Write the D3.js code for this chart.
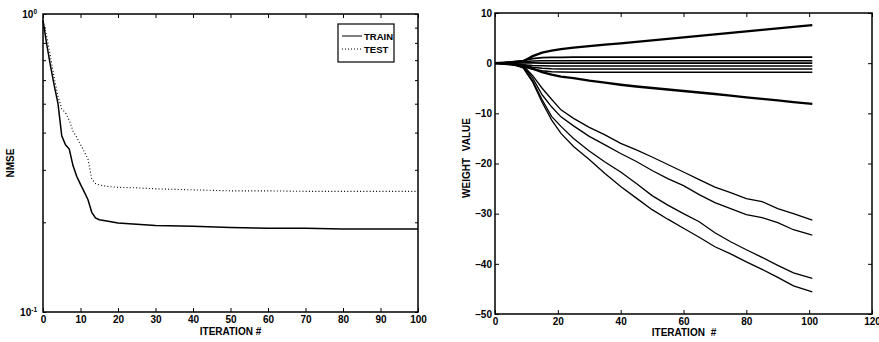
<!DOCTYPE html>
<html>
<head>
<meta charset="utf-8">
<script src="https://cdn.jsdelivr.net/npm/d3@7"></script>
<style>
	body { margin: 0; background: #fff; }
	svg { display: block; }
	text { font-family: "Liberation Sans", Arial, sans-serif; font-weight: bold; fill: #000; }
	.axis path { display: none; }
	.axis line { stroke: #000; stroke-width: 1; }
	.axis text { font-size: 10px; }
	.frame { fill: none; stroke: #000; stroke-width: 1.5; }
</style>
</head>
<body>
<svg class="chart" width="879" height="342"></svg>
<script>
// left panel - NMSE vs iteration (log scale)
var nmseIter = [0, 1, 2, 3, 4, 5, 6, 7, 8, 9, 10, 11, 12, 13, 14, 15, 17, 20, 25, 30, 40, 50, 60, 70, 80, 90, 100];
var trainNmse = [0.95, 0.79, 0.67, 0.575, 0.50, 0.39, 0.364, 0.352, 0.31, 0.285, 0.268, 0.253, 0.238, 0.216, 0.207, 0.204, 0.202, 0.199, 0.197, 0.195, 0.194, 0.192, 0.191, 0.191, 0.19, 0.19, 0.19];
var testNmse = [0.95, 0.84, 0.72, 0.61, 0.53, 0.48, 0.466, 0.44, 0.405, 0.385, 0.365, 0.345, 0.325, 0.28, 0.27, 0.267, 0.264, 0.262, 0.261, 0.259, 0.257, 0.255, 0.255, 0.254, 0.254, 0.254, 0.254];
var nmseXTicks = [0, 10, 20, 30, 40, 50, 60, 70, 80, 90, 100];
var nmseYMinor = [0.1, 0.2, 0.3, 0.4, 0.5, 0.6, 0.7, 0.8, 0.9, 1];
var legendNames = ["TRAIN", "TEST"];

// right panel - weight values vs iteration
var weightIter = [0, 3, 6, 9, 12, 15, 18, 21, 25, 30, 35, 40, 45, 50, 55, 60, 65, 70, 75, 80, 85, 90, 95, 101];
var wUp = [0, 0.1, 0.2, 0.4, 1.4, 2.1, 2.5, 2.8, 3.1, 3.4, 3.7, 3.95, 4.25, 4.55, 4.85, 5.15, 5.45, 5.75, 6.05, 6.35, 6.65, 6.95, 7.25, 7.6];
var wDown = [0, -0.1, -0.2, -0.4, -1.1, -1.8, -2.3, -2.7, -3.0, -3.5, -3.9, -4.3, -4.65, -4.95, -5.25, -5.55, -5.85, -6.15, -6.45, -6.8, -7.1, -7.4, -7.75, -8.1];
var wFlat1 = [0, 0.1, 0.3, 0.5, 0.9, 1.1, 1.15, 1.15, 1.2, 1.2, 1.2, 1.2, 1.2, 1.2, 1.2, 1.2, 1.2, 1.2, 1.2, 1.2, 1.2, 1.2, 1.2, 1.2];
var wFlat2 = [0, 0.1, 0.2, 0.3, 0.45, 0.5, 0.5, 0.5, 0.5, 0.5, 0.5, 0.5, 0.5, 0.5, 0.5, 0.5, 0.5, 0.5, 0.5, 0.5, 0.5, 0.5, 0.5, 0.5];
var wFlat3 = [0, 0, 0, 0.05, 0.05, 0, 0, 0, 0, 0, 0, 0, 0, 0, 0, 0, 0, 0, 0, 0, 0, 0, 0, 0];
var wFlat4 = [0, -0.1, -0.2, -0.3, -0.45, -0.5, -0.55, -0.55, -0.55, -0.55, -0.55, -0.55, -0.55, -0.55, -0.55, -0.55, -0.55, -0.55, -0.55, -0.55, -0.55, -0.55, -0.55, -0.55];
var wFlat5 = [0, -0.1, -0.3, -0.5, -0.8, -1.0, -1.1, -1.15, -1.15, -1.15, -1.15, -1.15, -1.15, -1.15, -1.15, -1.15, -1.15, -1.15, -1.15, -1.15, -1.15, -1.15, -1.15, -1.15];
var wFlat6 = [0, -0.2, -0.4, -0.7, -1.2, -1.5, -1.7, -1.75, -1.8, -1.8, -1.8, -1.8, -1.8, -1.8, -1.8, -1.8, -1.8, -1.8, -1.8, -1.8, -1.8, -1.8, -1.8, -1.8];
var wA = [0, 0, -0.2, -0.5, -2.5, -5.0, -7.2, -9.3, -11, -12.8, -14.3, -16, -17.3, -18.7, -20.2, -21.7, -23.2, -24.7, -25.8, -27, -27.6, -29.0, -30.0, -31.3];
var wB = [0, 0, -0.2, -0.6, -3, -6.3, -8.7, -10.7, -12.5, -14.6, -16.3, -18, -19.6, -21.4, -23, -24.4, -26.2, -27.8, -29, -30.2, -30.8, -31.8, -33.2, -34.3];
var wC = [0, 0, -0.3, -0.8, -3.5, -7.3, -10.6, -12.6, -15, -17.5, -19.7, -21.7, -24, -26.4, -28.3, -30, -31.6, -33.8, -35.6, -37.2, -38.7, -40.3, -41.8, -42.9];
var wD = [0, 0, -0.3, -1, -3.8, -7.8, -11.3, -14, -16.6, -19.2, -22, -24.6, -26.9, -29.2, -31.1, -32.9, -34.7, -36.6, -38, -39.6, -41.1, -42.7, -44.4, -45.6];
var weightXTicks = [0, 20, 40, 60, 80, 100, 120];
var weightYTicks = [-50, -40, -30, -20, -10, 0, 10];

var svg = d3.select(".chart");

// ---------- left panel ----------
var L = {left: 43, right: 418, top: 14, bottom: 312};

var xL = d3.scaleLinear().domain([0, 100]).range([L.left, L.right]);
var yL = d3.scaleLog().domain([0.1, 1]).range([L.bottom, L.top]);

var gL = svg.append("g");

gL.append("g")
	.attr("class", "axis")
	.attr("transform", "translate(0," + L.bottom + ")")
	.call(d3.axisBottom(xL).tickValues(nmseXTicks).tickSize(-4).tickPadding(4).tickFormat(d3.format("d")));

gL.append("g")
	.attr("class", "axis")
	.attr("transform", "translate(0," + L.top + ")")
	.call(d3.axisTop(xL).tickValues(nmseXTicks).tickSize(-4).tickFormat(""));

gL.append("g")
	.attr("class", "axis")
	.attr("transform", "translate(" + L.left + ",0)")
	.call(d3.axisLeft(yL).tickValues(nmseYMinor).tickSize(-3).tickFormat(""));

gL.append("g")
	.attr("class", "axis")
	.attr("transform", "translate(" + L.right + ",0)")
	.call(d3.axisRight(yL).tickValues(nmseYMinor).tickSize(-3).tickFormat(""));

// 10^0 and 10^-1 labels
var powLabels = gL.selectAll(".powLabel")
	.data([1, 0.1])
	.enter().append("text")
	.attr("class", "powLabel")
	.attr("x", L.left - 6)
	.attr("y", function(d) { return yL(d) + 4; })
	.attr("text-anchor", "end")
	.style("font-size", "10px");
powLabels.append("tspan").text("10");
powLabels.append("tspan")
	.attr("dy", -4)
	.style("font-size", "6.5px")
	.text(function(d) { return d == 1 ? "0" : "-1"; });

gL.append("rect")
	.attr("class", "frame")
	.attr("x", L.left)
	.attr("y", L.top)
	.attr("width", L.right - L.left)
	.attr("height", L.bottom - L.top);

var lineL = d3.line()
	.x(function(d, i) { return xL(nmseIter[i]); })
	.y(function(d) { return yL(d); });

gL.append("path")
	.datum(testNmse)
	.attr("d", lineL)
	.attr("fill", "none")
	.attr("stroke", "#000")
	.attr("stroke-width", 1.1)
	.attr("stroke-dasharray", "1,2.2");

gL.append("path")
	.datum(trainNmse)
	.attr("d", lineL)
	.attr("fill", "none")
	.attr("stroke", "#000")
	.attr("stroke-width", 1.5);

// legend
var leg = gL.append("g").attr("transform", "translate(338,24)");
leg.append("rect")
	.attr("width", 56)
	.attr("height", 38)
	.attr("fill", "#fff")
	.attr("stroke", "#000")
	.attr("stroke-width", 1.2);
leg.selectAll(".legLine")
	.data(legendNames)
	.enter().append("line")
	.attr("x1", 4)
	.attr("x2", 24)
	.attr("y1", function(d, i) { return 12 + i * 13; })
	.attr("y2", function(d, i) { return 12 + i * 13; })
	.attr("stroke", "#000")
	.attr("stroke-width", function(d, i) { return i == 0 ? 1 : 1.1; })
	.attr("stroke-dasharray", function(d, i) { return i == 0 ? null : "1,2"; });
leg.selectAll(".legText")
	.data(legendNames)
	.enter().append("text")
	.attr("x", 26)
	.attr("y", function(d, i) { return 15.5 + i * 13; })
	.style("font-size", "9.5px")
	.text(function(d) { return d; });

gL.append("text")
	.attr("x", (L.left + L.right) / 2)
	.attr("y", 335)
	.attr("text-anchor", "middle")
	.style("font-size", "10px")
	.text("ITERATION #");

gL.append("text")
	.attr("transform", "translate(14," + ((L.top + L.bottom) / 2) + ") rotate(-90)")
	.attr("text-anchor", "middle")
	.style("font-size", "10px")
	.text("NMSE");

// ---------- right panel ----------
var R = {left: 495, right: 872, top: 13, bottom: 314};

var xR = d3.scaleLinear().domain([0, 120]).range([R.left, R.right]);
var yR = d3.scaleLinear().domain([-50, 10]).range([R.bottom, R.top]);

var gR = svg.append("g");

gR.append("g")
	.attr("class", "axis")
	.attr("transform", "translate(0," + R.bottom + ")")
	.call(d3.axisBottom(xR).tickValues(weightXTicks).tickSize(-4).tickPadding(4).tickFormat(d3.format("d")));

gR.append("g")
	.attr("class", "axis")
	.attr("transform", "translate(0," + R.top + ")")
	.call(d3.axisTop(xR).tickValues(weightXTicks).tickSize(-4).tickFormat(""));

gR.append("g")
	.attr("class", "axis")
	.attr("transform", "translate(" + R.left + ",0)")
	.call(d3.axisLeft(yR).tickValues(weightYTicks).tickSize(-4).tickPadding(3)
		.tickFormat(function(d) { return d < 0 ? "\u2013" + (-d) : d; }));

gR.append("g")
	.attr("class", "axis")
	.attr("transform", "translate(" + R.right + ",0)")
	.call(d3.axisRight(yR).tickValues(weightYTicks).tickSize(-4).tickFormat(""));

gR.append("rect")
	.attr("class", "frame")
	.attr("x", R.left)
	.attr("y", R.top)
	.attr("width", R.right - R.left)
	.attr("height", R.bottom - R.top);

var weights = [
	{vals: wFlat1, w: 1.8},
	{vals: wFlat2, w: 1.5},
	{vals: wFlat3, w: 1.8},
	{vals: wFlat4, w: 1.5},
	{vals: wFlat5, w: 1.6},
	{vals: wFlat6, w: 1.5},
	{vals: wUp, w: 2.3},
	{vals: wDown, w: 2.3},
	{vals: wA, w: 1.3},
	{vals: wB, w: 1.3},
	{vals: wC, w: 1.3},
	{vals: wD, w: 1.3}
];

var lineR = d3.line()
	.x(function(d, i) { return xR(weightIter[i]); })
	.y(function(d) { return yR(d); });

gR.selectAll(".wLine")
	.data(weights)
	.enter().append("path")
	.attr("class", "wLine")
	.attr("d", function(d) { return lineR(d.vals); })
	.attr("fill", "none")
	.attr("stroke", "#000")
	.attr("stroke-width", function(d) { return d.w; });

gR.append("text")
	.attr("x", 684)
	.attr("y", 336)
	.attr("text-anchor", "middle")
	.style("font-size", "10px")
	.style("word-spacing", "3px")
	.text("ITERATION #");

gR.append("text")
	.attr("transform", "translate(470,158) rotate(-90)")
	.attr("text-anchor", "middle")
	.style("font-size", "10px")
	.style("word-spacing", "4px")
	.text("WEIGHT VALUE");
</script>
</body>
</html>
